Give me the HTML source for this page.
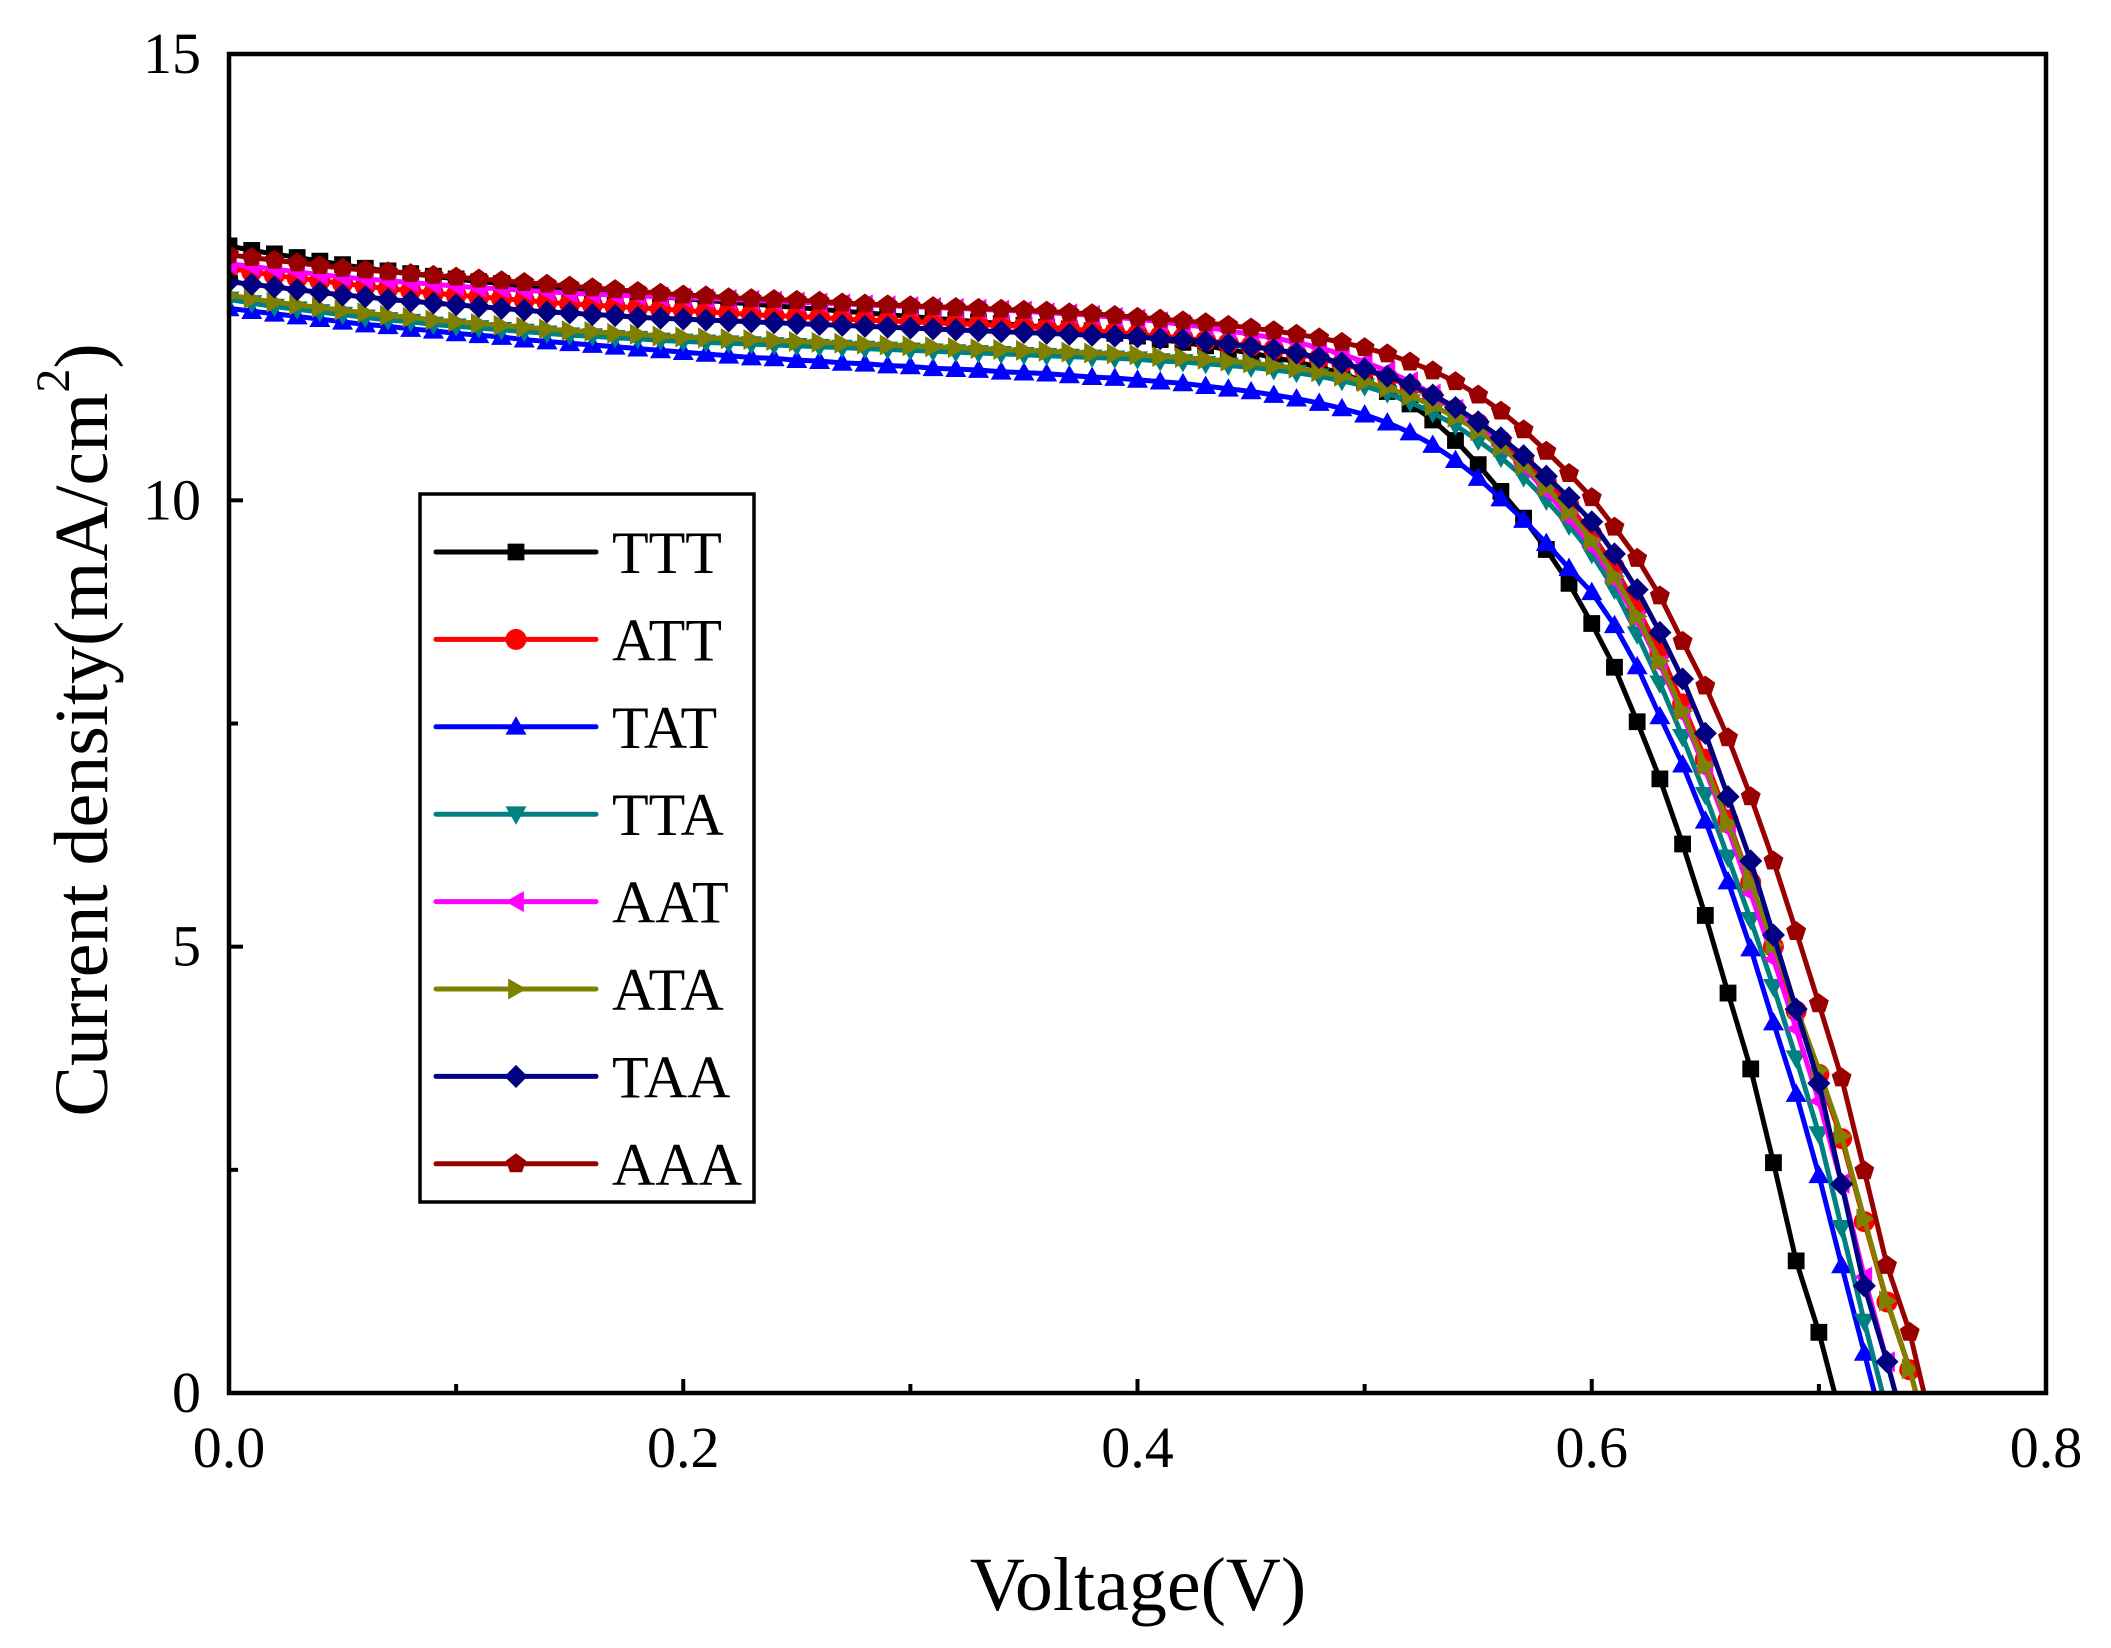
<!DOCTYPE html>
<html><head><meta charset="utf-8"><style>
html,body{margin:0;padding:0;background:#fff;}
svg{display:block;font-family:"Liberation Serif",serif;}
</style></head><body>
<svg id="chart" width="2111" height="1648" viewBox="0 0 2111 1648" xmlns="http://www.w3.org/2000/svg">
<defs><clipPath id="pc"><rect x="229" y="54" width="1817" height="1339"/></clipPath></defs>
<rect x="0" y="0" width="2111" height="1648" fill="#fff"/>
<g id="series" clip-path="url(#pc)"></g>
<rect x="229" y="54" width="1817" height="1339" fill="none" stroke="#000" stroke-width="4.5"/>
<g id="axes"></g>
<text x="1138" y="1610" font-size="76" text-anchor="middle">Voltage(V)</text>
<text transform="translate(107,730) rotate(-90)" font-size="76" text-anchor="middle">Current density(mA/cm<tspan font-size="48" dy="-38">2</tspan><tspan dy="38">)</tspan></text>
<g id="legend"></g>
</svg>
<script>
const xTicks=[0,0.2,0.4,0.6,0.8];
const xTickLabels=["0.0","0.2","0.4","0.6","0.8"];
const xMinor=[0.1,0.3,0.5,0.7];
const yTicks=[0,5,10,15];
const yTickLabels=["0","5","10","15"];
const yMinor=[2.5,7.5,12.5];
const vStep=0.01;
const names=["TTT","ATT","TAT","TTA","AAT","ATA","TAA","AAA"];
const colors=["#000000","#ff0000","#0000ff","#008080","#ff00ff","#808000","#000080","#990000"];
const markers=["square","circle","up","down","left","right","diamond","pentagon"];
const sTTT=[12.85,12.8,12.76,12.72,12.68,12.64,12.6,12.57,12.54,12.51,12.48,12.45,12.43,12.4,12.38,12.36,12.34,12.32,12.3,12.28,12.26,12.24,12.22,12.2,12.18,12.16,12.14,12.12,12.1,12.08,12.06,12.04,12.02,12.0,11.98,11.96,11.94,11.92,11.9,11.87,11.84,11.8,11.77,11.73,11.69,11.65,11.6,11.55,11.49,11.42,11.33,11.22,11.08,10.9,10.67,10.4,10.1,9.8,9.45,9.07,8.62,8.13,7.52,6.88,6.15,5.35,4.48,3.63,2.58,1.48,0.68,-0.3];
const sATT=[12.6,12.56,12.52,12.49,12.46,12.43,12.4,12.37,12.35,12.32,12.3,12.28,12.26,12.24,12.22,12.2,12.19,12.17,12.16,12.14,12.13,12.11,12.1,12.08,12.07,12.06,12.05,12.03,12.02,12.01,12.0,11.99,11.98,11.97,11.96,11.95,11.93,11.92,11.9,11.88,11.86,11.84,11.82,11.79,11.76,11.73,11.69,11.64,11.59,11.53,11.46,11.38,11.28,11.16,11.02,10.86,10.67,10.45,10.21,9.94,9.62,9.25,8.8,8.3,7.72,7.1,6.42,5.72,5.0,4.28,3.57,2.85,1.92,1.02,0.26,-0.7];
const sTAT=[12.15,12.12,12.09,12.06,12.03,12.0,11.97,11.95,11.92,11.9,11.87,11.85,11.83,11.8,11.78,11.76,11.74,11.72,11.7,11.68,11.66,11.64,11.62,11.6,11.59,11.57,11.56,11.54,11.53,11.51,11.5,11.48,11.47,11.46,11.44,11.43,11.42,11.4,11.38,11.37,11.35,11.33,11.31,11.28,11.25,11.22,11.18,11.14,11.09,11.03,10.96,10.87,10.76,10.62,10.45,10.25,10.02,9.78,9.52,9.24,8.97,8.6,8.14,7.58,7.04,6.41,5.73,4.98,4.15,3.35,2.44,1.43,0.45,-0.55];
const sTTA=[12.25,12.21,12.17,12.14,12.11,12.08,12.05,12.02,12.0,11.97,11.95,11.93,11.91,11.89,11.87,11.85,11.84,11.82,11.81,11.79,11.78,11.77,11.76,11.75,11.74,11.73,11.72,11.71,11.7,11.69,11.68,11.67,11.66,11.65,11.64,11.63,11.62,11.61,11.6,11.59,11.58,11.56,11.55,11.53,11.51,11.49,11.46,11.43,11.39,11.34,11.28,11.2,11.1,10.98,10.84,10.67,10.48,10.26,10.0,9.72,9.4,9.0,8.5,7.95,7.35,6.7,6.0,5.3,4.55,3.75,2.9,1.85,0.8,-0.2];
const sAAT=[12.65,12.62,12.59,12.56,12.53,12.5,12.48,12.46,12.44,12.42,12.4,12.38,12.37,12.35,12.34,12.32,12.31,12.3,12.29,12.28,12.27,12.26,12.25,12.24,12.23,12.22,12.21,12.2,12.19,12.18,12.17,12.16,12.15,12.14,12.13,12.12,12.1,12.09,12.07,12.05,12.03,12.0,11.97,11.94,11.9,11.86,11.82,11.77,11.71,11.64,11.55,11.45,11.33,11.19,11.02,10.83,10.61,10.37,10.1,9.8,9.48,9.1,8.66,8.16,7.6,6.98,6.32,5.6,4.86,4.08,3.27,2.35,1.3,0.35,-0.6];
const sATA=[12.3,12.26,12.22,12.19,12.16,12.13,12.1,12.07,12.05,12.02,12.0,11.98,11.96,11.94,11.92,11.9,11.89,11.87,11.86,11.84,11.83,11.82,11.81,11.8,11.79,11.78,11.77,11.76,11.75,11.74,11.73,11.72,11.71,11.7,11.69,11.68,11.67,11.66,11.65,11.64,11.63,11.61,11.6,11.58,11.56,11.54,11.51,11.48,11.44,11.39,11.33,11.26,11.17,11.06,10.93,10.78,10.6,10.39,10.15,9.87,9.55,9.15,8.7,8.2,7.64,7.03,6.38,5.72,5.02,4.32,3.62,2.88,1.95,1.03,0.27,-0.7];
const sTAA=[12.45,12.42,12.39,12.36,12.33,12.3,12.28,12.25,12.23,12.21,12.19,12.17,12.15,12.13,12.11,12.1,12.08,12.07,12.05,12.04,12.03,12.02,12.01,12.0,11.99,11.98,11.97,11.96,11.95,11.94,11.93,11.92,11.91,11.9,11.89,11.88,11.87,11.86,11.85,11.84,11.83,11.81,11.8,11.78,11.75,11.72,11.69,11.65,11.6,11.54,11.47,11.39,11.3,11.18,11.04,10.88,10.7,10.5,10.27,10.03,9.76,9.4,9.0,8.52,8.0,7.39,6.68,5.96,5.13,4.3,3.47,2.34,1.2,0.35,-0.6];
const sAAA=[12.75,12.72,12.69,12.66,12.63,12.6,12.58,12.56,12.54,12.52,12.5,12.48,12.46,12.44,12.42,12.4,12.38,12.36,12.34,12.32,12.3,12.29,12.27,12.26,12.25,12.24,12.23,12.21,12.2,12.19,12.18,12.17,12.16,12.15,12.14,12.13,12.12,12.1,12.09,12.07,12.05,12.03,12.01,11.99,11.96,11.93,11.9,11.86,11.82,11.77,11.71,11.64,11.55,11.45,11.33,11.18,11.0,10.79,10.55,10.3,10.03,9.7,9.35,8.93,8.42,7.92,7.34,6.68,5.96,5.17,4.36,3.53,2.49,1.43,0.68,-0.4];
const seriesData=[sTTT,sATT,sTAT,sTTA,sAAT,sATA,sTAA,sAAA];

const X0=229,X1=2046,Y0=1393,Y1=54;
const xs=v=>X0+(v-0)/(0.8-0)*(X1-X0);
const ys=j=>Y0-(j-0)/(15-0)*(Y0-Y1);
const NS="http://www.w3.org/2000/svg";
const MR=10.5;
function mk(tag,attrs,parent){const e=document.createElementNS(NS,tag);for(const k in attrs)e.setAttribute(k,attrs[k]);parent.appendChild(e);return e;}
function markerPath(type,cx,cy,r){
  switch(type){
    case "square": return `M${cx-r*0.8},${cy-r*0.8}h${1.6*r}v${1.6*r}h${-1.6*r}Z`;
    case "circle": return `M${cx-r},${cy}a${r},${r} 0 1,0 ${2*r},0a${r},${r} 0 1,0 ${-2*r},0Z`;
    case "up": return `M${cx},${cy-r}L${cx+r},${cy+r*0.75}L${cx-r},${cy+r*0.75}Z`;
    case "down": return `M${cx},${cy+r}L${cx+r},${cy-r*0.75}L${cx-r},${cy-r*0.75}Z`;
    case "left": return `M${cx-r},${cy}L${cx+r*0.75},${cy-r}L${cx+r*0.75},${cy+r}Z`;
    case "right": return `M${cx+r},${cy}L${cx-r*0.75},${cy-r}L${cx-r*0.75},${cy+r}Z`;
    case "diamond": return `M${cx},${cy-r*1.1}L${cx+r*1.1},${cy}L${cx},${cy+r*1.1}L${cx-r*1.1},${cy}Z`;
    default: {let p="";for(let k=0;k<5;k++){const a=-Math.PI/2+k*2*Math.PI/5;p+=(k?"L":"M")+(cx+r*Math.cos(a))+","+(cy+r*Math.sin(a));}return p+"Z";}
  }
}
const axes=document.getElementById('axes');
xTicks.forEach((v,i)=>{
  const l=mk('line',{x1:xs(v),x2:xs(v),y1:Y0,y2:Y0-14,stroke:'#000','stroke-width':4},axes);
  
  
  const t=mk('text',{x:xs(v),y:1467,'font-size':58,'text-anchor':'middle'},axes);
  t.textContent=xTickLabels[i];
  
  
});
xMinor.forEach(v=>{
  const l=mk('line',{x1:xs(v),x2:xs(v),y1:Y0,y2:Y0-9,stroke:'#000','stroke-width':4},axes);
  
  
});
yTicks.forEach((v,i)=>{
  const l=mk('line',{x1:X0,x2:X0+14,y1:ys(v),y2:ys(v),stroke:'#000','stroke-width':4},axes);
  
  
  const t=mk('text',{x:201,y:ys(v)+19,'font-size':58,'text-anchor':'end'},axes);
  t.textContent=yTickLabels[i];
  
  
});
yMinor.forEach(v=>{
  const l=mk('line',{x1:X0,x2:X0+9,y1:ys(v),y2:ys(v),stroke:'#000','stroke-width':4},axes);
  
  
});
const sg=document.getElementById('series');
seriesData.forEach((arr,si)=>{
  const g=mk('g',{},sg);
  
  
  const pts=arr.map((j,i)=>xs(i*vStep)+","+ys(j)).join(" ");
  const pl=mk('polyline',{points:pts,fill:'none',stroke:colors[si],'stroke-width':5,'stroke-linejoin':'round'},g);
  
  
  arr.forEach((j,i)=>{
    const m=mk('path',{d:markerPath(markers[si],xs(i*vStep),ys(j),MR),fill:colors[si]},g);
    
    
  });
});
const lg=document.getElementById('legend');
const box=mk('rect',{x:420,y:494,width:334,height:708,fill:'#fff',stroke:'#000','stroke-width':3.5},lg);


names.forEach((n,i)=>{
  const y=552+i*87.4;
  const g=mk('g',{},lg);
  
  
  mk('line',{x1:436,x2:596,y1:y,y2:y,stroke:colors[i],'stroke-width':5,'stroke-linecap':'round'},g);
  mk('path',{d:markerPath(markers[i],516,y,MR),fill:colors[i]},g);
  const t=mk('text',{x:612,y:y+21,'font-size':60},g);
  t.textContent=n;
  
  
});
</script>
</body></html>
